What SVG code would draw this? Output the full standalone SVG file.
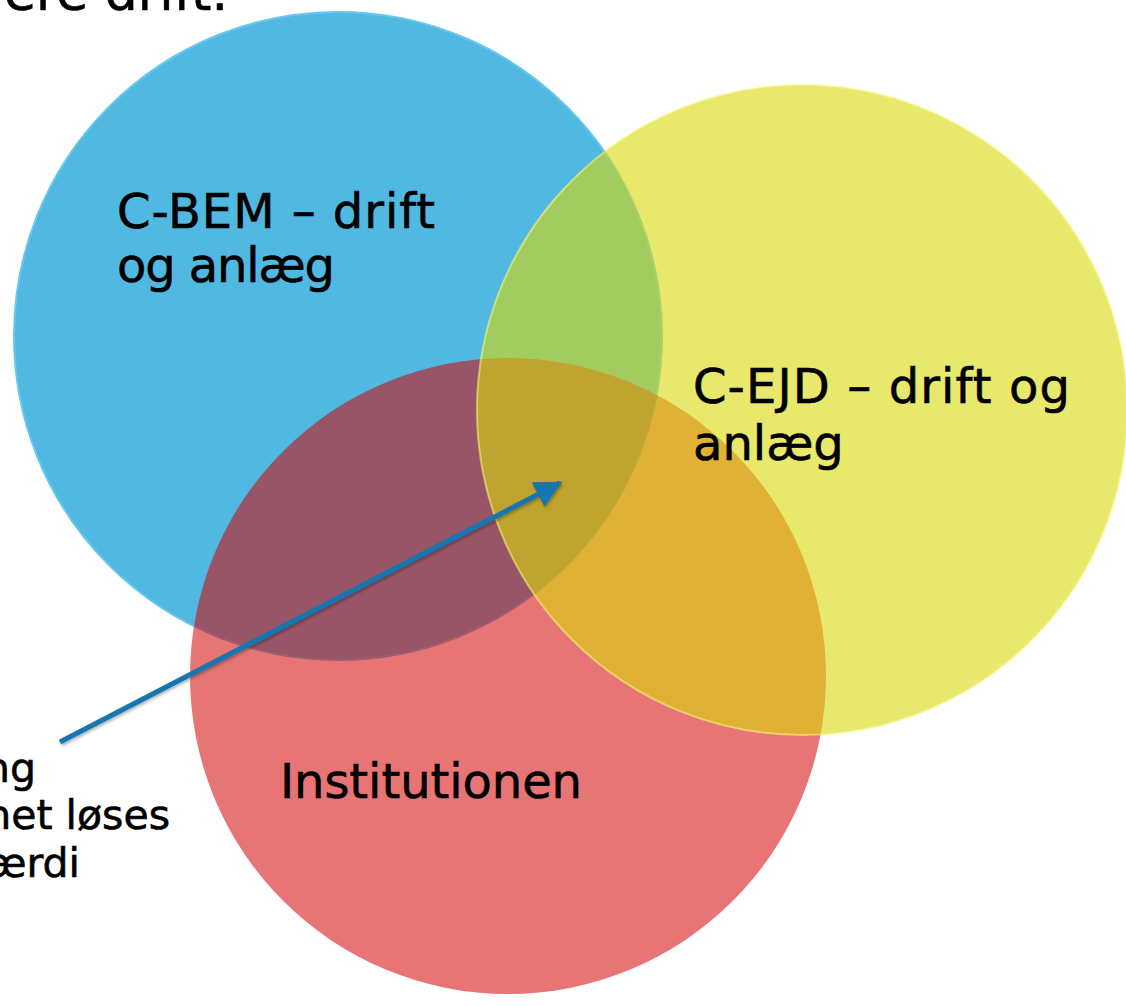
<svg xmlns="http://www.w3.org/2000/svg" width="1126" height="1006" viewBox="0 0 1126 1006">
<defs>
<style>
.t{font-family:"DejaVu Sans","Verdana",sans-serif;fill:#000;stroke:#000;stroke-width:0.6px;}
.big{font-size:48px;}
.small{font-size:41px;}
.arrow{stroke:#1277b0;stroke-width:5;fill:none;}
</style>
<marker id="ah" viewBox="0 0 10 10" refX="9" refY="5" markerWidth="5.5" markerHeight="5.5" orient="auto" markerUnits="strokeWidth">
<path d="M0,0 L10,5 L0,10 z" fill="#1277b0"/>
</marker>
<filter id="sh" x="-10%" y="-10%" width="120%" height="120%">
<feGaussianBlur in="SourceAlpha" stdDeviation="1.5"/>
<feOffset dx="1" dy="2" result="b"/>
<feFlood flood-color="#000" flood-opacity="0.3"/>
<feComposite in2="b" operator="in"/>
<feMerge><feMergeNode/><feMergeNode in="SourceGraphic"/></feMerge>
</filter>
</defs>
<rect width="1126" height="1006" fill="#ffffff"/>
<text class="t" x="228" y="10" font-size="52" text-anchor="end">ere drift.</text>
<g id="node-cbem">
<circle cx="338" cy="336" r="324" fill="#51b9e1" stroke="#66c8ee" stroke-width="2"/>
</g>
<g id="node-institutionen">
<circle cx="508" cy="676" r="318" fill="#d40000" fill-opacity="0.54"/>
</g>
<g id="node-cejd">
<circle cx="802" cy="410" r="325" fill="#d9d90a" fill-opacity="0.6" stroke="#f5f57a" stroke-opacity="0.6" stroke-width="2"/>
</g>
<g id="labels">
<text class="t big" x="117" y="228" textLength="318" lengthAdjust="spacing">C-BEM – drift</text>
<text class="t big" x="117" y="282" textLength="218" lengthAdjust="spacing">og anlæg</text>
<text class="t big" x="693" y="403" textLength="377" lengthAdjust="spacing">C-EJD – drift og</text>
<text class="t big" x="693" y="460">anlæg</text>
<text class="t big" x="280" y="798" textLength="302" lengthAdjust="spacing">Institutionen</text>
<text class="t small" x="36" y="782" text-anchor="end">ng</text>
<text class="t small" x="170" y="829" text-anchor="end">net løses</text>
<text class="t small" x="80" y="877" text-anchor="end">ærdi</text>
</g>
<g id="connectors" filter="url(#sh)">
<line class="arrow" x1="60" y1="742" x2="560" y2="483" marker-end="url(#ah)"/>
</g>
</svg>
